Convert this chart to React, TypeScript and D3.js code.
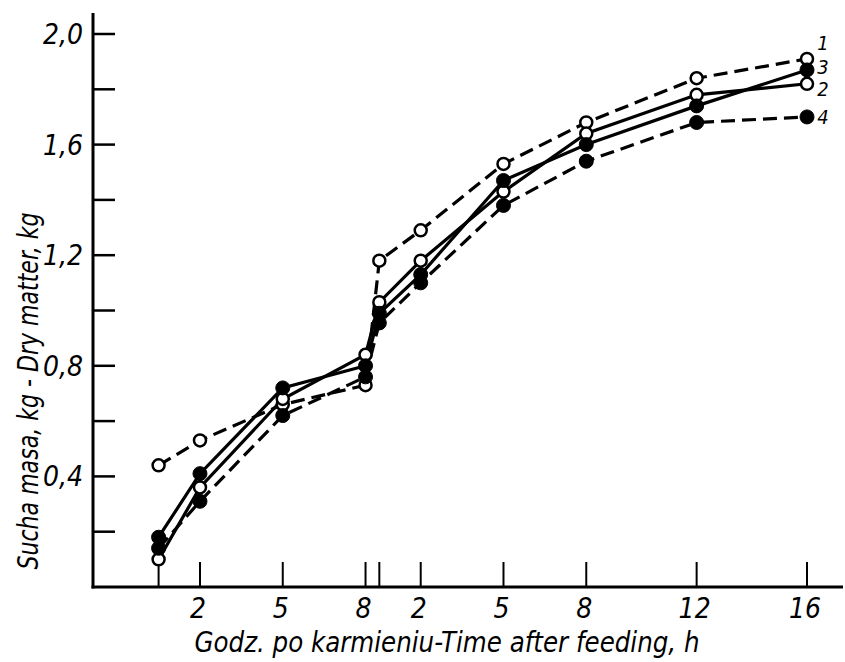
import React from 'react';
import * as d3 from 'd3';

// time axis runs over both feeding periods: 0-8 h of the first, then 8 + h of the second
const hours = [0.5, 2, 5, 8, 8.5, 10, 13, 16, 20, 24];
const series1 = [0.44, 0.53, 0.66, 0.73, 1.18, 1.29, 1.53, 1.68, 1.84, 1.91];
const series2 = [0.1, 0.36, 0.68, 0.84, 1.03, 1.18, 1.43, 1.64, 1.78, 1.82];
const series3 = [0.18, 0.41, 0.72, 0.8, 0.99, 1.13, 1.47, 1.6, 1.74, 1.87];
const series4 = [0.14, 0.31, 0.62, 0.76, 0.955, 1.1, 1.38, 1.54, 1.68, 1.7];

const tickHours = [0.5, 2, 5, 8, 8.5, 10, 13, 16, 20, 24];
const tickLabels = ['', '2', '5', '8', '', '2', '5', '8', '12', '16'];
const yTicks = [0.2, 0.4, 0.6, 0.8, 1.0, 1.2, 1.4, 1.6, 1.8, 2.0];
const yLabels = ['', '0,4', '', '0,8', '', '1,2', '', '1,6', '', '2,0'];

const seriesDefs = [
  { name: '1', values: series1, dashed: true, filled: false, labelDy: -16 },
  { name: '2', values: series2, dashed: false, filled: false, labelDy: 5 },
  { name: '3', values: series3, dashed: false, filled: true, labelDy: -3 },
  { name: '4', values: series4, dashed: true, filled: true, labelDy: 0 },
];

const FONT = "'Liberation Sans Narrow', 'DejaVu Sans Condensed', 'Liberation Sans', sans-serif";

const App = () => {
  const width = 845;
  const height = 662;

  const x = d3.scaleLinear().domain([0, 24]).range([144.8, 807]);
  const y = d3.scaleLinear().domain([0, 2]).range([587, 34]);

  const axisX = 93;
  const axisY = y(0);

  const line = d3.line<number>()
    .x((_, i) => x(hours[i]))
    .y(d => y(d));

  // draw order: lines first, markers on top
  return (
    <svg width={width} height={height} style={{ position: 'absolute', left: 0, top: 0, background: '#fff' }}
      fontFamily={FONT} fontStyle="italic">
      <rect width={width} height={height} fill="#fff" />

      {/* axes */}
      <line x1={axisX} x2={axisX} y1={13} y2={axisY + 1.5} stroke="#000" strokeWidth={3} />
      <line x1={axisX - 1.5} x2={843} y1={axisY} y2={axisY} stroke="#000" strokeWidth={3} />

      {yTicks.map((t, i) => (
        <g key={'yt' + i}>
          <line x1={axisX} x2={axisX + 22} y1={y(t)} y2={y(t)} stroke="#000" strokeWidth={2.5} />
          {yLabels[i] && (
            <text x={83} y={y(t) + 10} textAnchor="end" fontSize={28}>{yLabels[i]}</text>
          )}
        </g>
      ))}

      {tickHours.map((t, i) => (
        <g key={'xt' + i}>
          <line x1={x(t)} x2={x(t)} y1={axisY - 25} y2={axisY} stroke="#000" strokeWidth={2} />
          {tickLabels[i] && (
            <text x={x(t) - 2} y={618} textAnchor="middle" fontSize={28}>{tickLabels[i]}</text>
          )}
        </g>
      ))}

      <text x={447} y={652} textAnchor="middle" fontSize={28} textLength={505} lengthAdjust="spacingAndGlyphs">
        Godz. po karmieniu-Time after feeding, h
      </text>
      <text transform="translate(38,391) rotate(-90)" textAnchor="middle" fontSize={28}
        textLength={357} lengthAdjust="spacingAndGlyphs">
        Sucha masa, kg - Dry matter, kg
      </text>

      {/* series lines */}
      {seriesDefs.map(s => (
        <path key={'l' + s.name} d={line(s.values) || ''} fill="none" stroke="#000"
          strokeWidth={3.2} strokeDasharray={s.dashed ? '14 7' : undefined} />
      ))}

      {/* markers */}
      {seriesDefs.map(s => (
        <g key={'m' + s.name}>
          {s.values.map((v, i) => (
            <circle key={i} cx={x(hours[i])} cy={y(v)} r={s.filled ? 7 : 6}
              fill={s.filled ? '#000' : '#fff'} stroke="#000" strokeWidth={s.filled ? 1 : 2.5} />
          ))}
        </g>
      ))}

      {/* series numbers at the right end */}
      {seriesDefs.map(s => {
        const last = s.values.length - 1;
        return (
          <text key={'n' + s.name} x={x(hours[last]) + 16} y={y(s.values[last]) + s.labelDy + 7}
            textAnchor="middle" fontSize={20}>{s.name}</text>
        );
      })}
    </svg>
  );
};

export default App;
